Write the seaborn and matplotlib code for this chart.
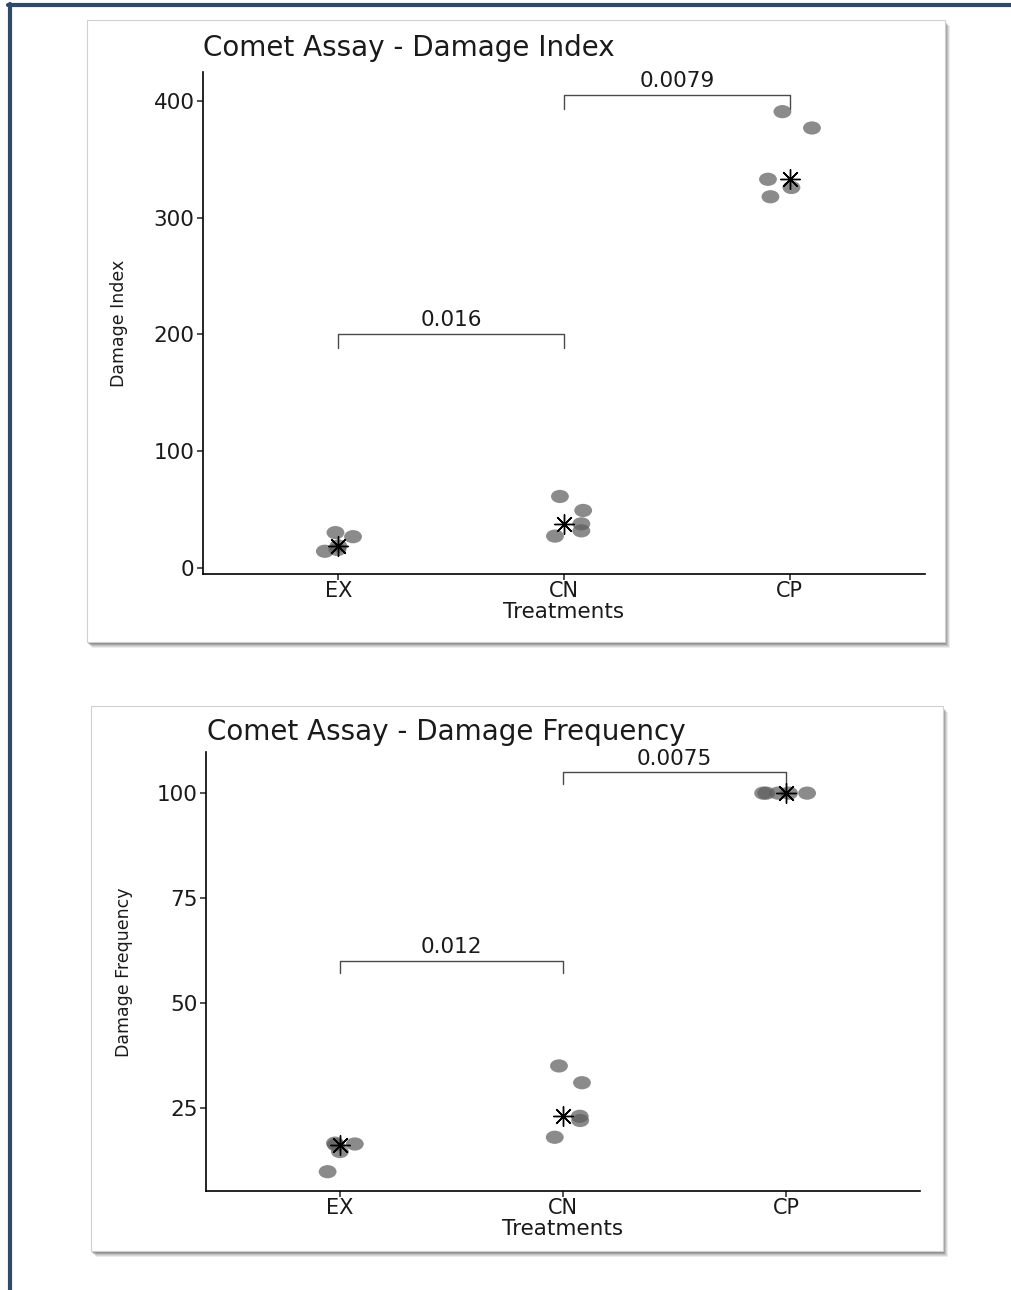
import numpy as np
import pandas as pd
import matplotlib
matplotlib.use("Agg")
import matplotlib.pyplot as plt
from matplotlib.patches import Rectangle
from matplotlib.path import Path
from matplotlib.markers import MarkerStyle
import matplotlib.transforms as mtransforms
import seaborn as sns

# ---------------- data ----------------
treatments = ["EX", "CN", "CP"]

# Comet assay - damage index (5 animals per group)
index_ex = [30, 26.5, 18.5, 15.5, 14]
index_cn = [61, 49, 37.5, 31.5, 27]
index_cp = [391, 377, 333, 326, 318]

# Comet assay - damage frequency (%)
freq_ex = [16.6, 16.4, 16.2, 14.6, 9.8]
freq_cn = [35, 31, 23, 22, 18]
freq_cp = [100, 100, 100, 100, 100]

# horizontal jitter of each dot (category units)
jit_index_ex = [-0.013, 0.065, 0.0, -0.004, -0.06]
jit_index_cn = [-0.018, 0.085, 0.077, 0.077, -0.04]
jit_index_cp = [-0.032, 0.099, -0.096, 0.008, -0.085]
jit_freq_ex = [-0.022, 0.067, -0.018, 0.0, -0.055]
jit_freq_cn = [-0.018, 0.085, 0.075, 0.077, -0.037]
jit_freq_cp = [-0.103, -0.089, -0.036, 0.013, 0.094]

# pairwise comparisons: (group a, group b, p-value label, bracket height)
index_tests = [("EX", "CN", "0.016", 200), ("CN", "CP", "0.0079", 405)]
freq_tests = [("EX", "CN", "0.012", 60), ("CN", "CP", "0.0075", 105)]

# ---------------- figure ----------------
W, H = 1011, 1290
sns.set_theme(style="white")
plt.rcParams["font.family"] = ["DejaVu Sans"]
fig = plt.figure(figsize=(W / 100, H / 100), dpi=100)
fig.patch.set_facecolor("white")


def fx(px):
    return px / W


def fy(py):
    return 1 - py / H


# outer frame (top and left rules)
fig.add_artist(plt.Line2D([fx(9.5), fx(9.5)], [fy(4), fy(H)], color="#2f4a68", lw=3,
                          transform=fig.transFigure, zorder=0))
fig.add_artist(plt.Line2D([fx(8), 1], [fy(5), fy(5)], color="#2f4a68", lw=3,
                          transform=fig.transFigure, zorder=0))


def panel_box(x0, y0, x1, y1):
    # soft drop shadow to the lower right, then the white card
    for k, a in enumerate([0.12, 0.16, 0.22, 0.30, 0.40]):
        off = 6 - k
        fig.add_artist(Rectangle((fx(x0 + off - 1), fy(y1 + off)), fx(x1 - x0), (y1 - y0) / H,
                                 transform=fig.transFigure, facecolor="#6a6a6a",
                                 edgecolor="none", alpha=a, zorder=0))
    fig.add_artist(Rectangle((fx(x0), fy(y1)), fx(x1 - x0), (y1 - y0) / H,
                             transform=fig.transFigure, facecolor="white",
                             edgecolor="#d0d0d0", lw=0.8, zorder=0.5))


panel_box(87, 20, 945, 642)
panel_box(91, 706, 943, 1251)

# ellipse dot marker (wider than tall)
ell = Path.unit_circle().transformed(mtransforms.Affine2D().scale(1.35, 1.0))
dot_marker = MarkerStyle(ell)
star_marker = (8, 2, 0)

TXT = "#1a1a1a"


def draw_panel(rect_px, groups, jitters, tests, ylim, yticks, title, title_xy, ylabel, ylabel_xy):
    l, t, r, b = rect_px
    ax = fig.add_axes([fx(l), fy(b), fx(r - l), (b - t) / H])
    ax.set_zorder(2)
    ax.set_facecolor("none")

    rows = []
    for name, vals, jit in zip(treatments, groups, jitters):
        for v, j in zip(vals, jit):
            rows.append({"Treatments": name, "value": v,
                         "xpos": treatments.index(name) + j})
    df = pd.DataFrame(rows)
    med = df.groupby("Treatments", sort=False)["value"].median().reset_index()
    med["xpos"] = [treatments.index(n) for n in med["Treatments"]]

    sns.scatterplot(data=df, x="xpos", y="value", ax=ax, marker=dot_marker, s=165,
                    color="#5e5e5e", alpha=0.72, edgecolor="none", zorder=3)
    sns.scatterplot(data=med, x="xpos", y="value", ax=ax, marker=star_marker, s=200,
                    color="black", linewidth=1.0, zorder=4)

    for a, bname, lab, hgt in tests:
        xa, xb = treatments.index(a), treatments.index(bname)
        drop = (ylim[1] - ylim[0]) * 0.027
        ax.plot([xa, xa, xb, xb], [hgt - drop, hgt, hgt, hgt - drop],
                color="#4a4a4a", lw=1.0, zorder=2)
        ax.text((xa + xb) / 2, hgt + (ylim[1] - ylim[0]) * 0.008, lab, ha="center", va="bottom",
                fontsize=15.5, color=TXT)

    ax.set_xlim(-0.6, 2.6)
    ax.set_ylim(*ylim)
    ax.set_xticks(range(len(treatments)))
    ax.set_xticklabels(treatments)
    ax.set_yticks(yticks)
    ax.set_yticklabels([str(v) for v in yticks])
    ax.set_xlabel("Treatments", fontsize=15.5, color=TXT, labelpad=1)
    ax.set_ylabel("")
    for s in ["top", "right"]:
        ax.spines[s].set_visible(False)
    for s in ["left", "bottom"]:
        ax.spines[s].set_color("black")
        ax.spines[s].set_linewidth(1.2)
    ax.tick_params(axis="y", which="major", length=4, width=1.1, color="#222222",
                   labelsize=15.5, labelcolor=TXT, pad=2, left=True)
    ax.tick_params(axis="x", which="major", length=4, width=1.1, color="#222222",
                   labelsize=15, labelcolor=TXT, pad=1, bottom=True)

    fig.text(fx(title_xy[0]), fy(title_xy[1]), title, fontsize=20, color=TXT,
             ha="left", va="center", zorder=3)
    fig.text(fx(ylabel_xy[0]), fy(ylabel_xy[1]), ylabel, fontsize=12.5, color=TXT,
             rotation=90, ha="center", va="center", zorder=3)
    return ax


draw_panel((203, 72, 925, 574), [index_ex, index_cn, index_cp],
           [jit_index_ex, jit_index_cn, jit_index_cp], index_tests,
           (-5.5, 425), [0, 100, 200, 300, 400],
           "Comet Assay - Damage Index", (203, 48), "Damage Index", (119, 323))

draw_panel((206, 752, 920, 1191), [freq_ex, freq_cn, freq_cp],
           [jit_freq_ex, jit_freq_cn, jit_freq_cp], freq_tests,
           (5.2, 109.8), [25, 50, 75, 100],
           "Comet Assay - Damage Frequency", (207, 732), "Damage Frequency", (124, 972))

fig.savefig("out.png", dpi=100, facecolor="white")
